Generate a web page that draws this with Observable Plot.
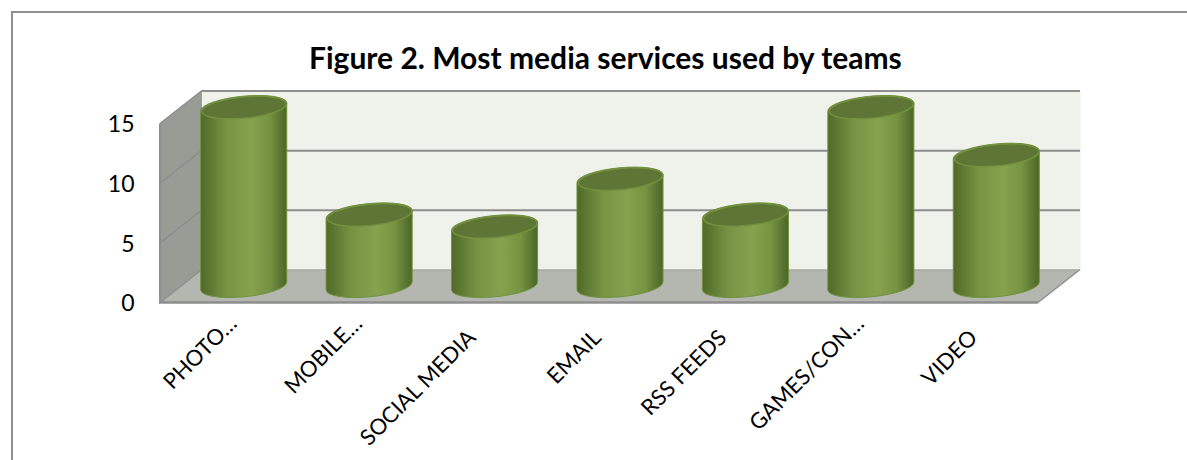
<!DOCTYPE html>
<html>
<head>
<meta charset="utf-8">
<script src="https://cdn.jsdelivr.net/npm/d3@7"></script>
<script src="https://cdn.jsdelivr.net/npm/@observablehq/plot@0.6"></script>
<style>
  html, body { margin: 0; background: #fff; overflow: hidden; }
  #chart { position: absolute; left: 11px; top: 11px; width: 1176px; height: 449px;
           border-top: 2px solid #8e8e8e; border-left: 2px solid #8e8e8e; box-sizing: border-box; }
  #chart h2 { margin: 0; height: 57px; padding: 27px 0 0 296px; box-sizing: border-box;
              font: bold 30px/34px Lato, sans-serif; color: #000; white-space: nowrap; }
  #chart svg { display: block; }
</style>
</head>
<body>
<div id="chart"><h2>Figure 2. Most media services used by teams</h2></div>
<script>
const categories = ["PHOTO…", "MOBILE…", "SOCIAL MEDIA", "EMAIL", "RSS FEEDS", "GAMES/CON…", "VIDEO"];
const teamCounts = [15, 6, 5, 9, 6, 15, 11];
const yTicks = [0, 5, 10, 15];
const teams = categories.map((name, i) => ({name, count: teamCounts[i]}));
const isShortened = name => name.endsWith("…");

// Oblique projection of the chart box: how far the back plane sits from the front one.
const depthX = 42, depthY = -33;
const tilt = -5.5 * Math.PI / 180; // lean of the cylinder caps
const capRatio = 0.25;             // minor / major axis of a cap

// Horizontal shading used on every cylinder body.
const gradient = () => {
  const g = d3.create("svg:linearGradient").attr("id", "drum");
  [[0, "#4f6a27"], [0.08, "#5a7530"], [0.3, "#779443"], [0.58, "#86a24f"],
   [0.8, "#759341"], [0.94, "#587330"], [1, "#4c6724"]]
    .forEach(([o, c]) => g.append("stop").attr("offset", o).attr("stop-color", c));
  const defs = d3.create("svg:defs");
  defs.append(() => g.node());
  return defs.node();
};

// Left wall and floor of the box, placed with the y scale.
const walls = (index, {y}, values, {width, height, marginLeft, marginRight}) => {
  const g = d3.create("svg:g");
  const x0 = marginLeft, x1 = width - marginRight, y0 = y(0), yTop = y(15);
  const poly = (pts, fill) => g.append("polygon").attr("points", pts.join(" ")).attr("fill", fill);
  poly([[x0, yTop], [x0 + depthX, yTop + depthY], [x0 + depthX, y0 + depthY], [x0, y0]], "#999c95");
  poly([[x0, y0], [x0 + depthX, y0 + depthY], [x1 + depthX, y0 + depthY], [x1, y0]], "#b4b7af");
  const seg = (a, b, c, d, w, s) => g.append("line").attr("x1", a).attr("y1", b).attr("x2", c).attr("y2", d)
    .attr("stroke", s).attr("stroke-width", w);
  for (const t of yTicks) seg(x0, y(t), x0 + depthX, y(t) + depthY, 1.5, "#8e8e8e");
  seg(x0, yTop, x0, y0, 2, "#8e8e8e");
  seg(x1, y0, x1 + depthX, y0 + depthY, 1.5, "#8e8e8e");
  seg(x0 - 1, y0, x1, y0, 2.5, "#8e8e8e");
  return g.node();
};

// Turns each bar rectangle into a cylinder silhouette with leaning elliptical ends.
const asCylinder = (index, scales, values, dimensions, context, next) => {
  const g = next(index, scales, values, dimensions, context);
  d3.select(g).selectAll("rect").each(function () {
    const r = d3.select(this);
    const [x, y, w, h] = ["x", "y", "width", "height"].map(a => +r.attr(a));
    const rise = (w / 2) * Math.tan(-tilt);
    const rx = Math.hypot(w / 2, rise), ry = rx * capRatio, deg = tilt * 180 / Math.PI;
    const arc = (tx, ty) => `A${rx},${ry} ${deg} 0 1 ${tx},${ty}`;
    const path = document.createElementNS("http://www.w3.org/2000/svg", "path");
    path.setAttribute("d", `M${x},${y + rise}${arc(x + w, y - rise)}L${x + w},${y + h - rise}${arc(x, y + h + rise)}Z`);
    this.replaceWith(path);
  });
  return g;
};

// Cap of a cylinder: an ellipse whose major axis comes from the dot radius.
const capSymbol = {
  draw(context, size) {
    const rx = Math.sqrt(size / Math.PI), ry = rx * capRatio;
    const n = 72;
    for (let i = 0; i <= n; ++i) {
      const a = (i / n) * 2 * Math.PI;
      const ex = rx * Math.cos(a), ey = ry * Math.sin(a);
      const px = ex * Math.cos(tilt) - ey * Math.sin(tilt);
      const py = ex * Math.sin(tilt) + ey * Math.cos(tilt);
      i ? context.lineTo(px, py) : context.moveTo(px, py);
    }
    context.closePath();
  }
};

const xAxisStyle = {tickSize: 0, tickRotate: -45, tickPadding: 31, fontSize: 22, label: null};

const chart = Plot.plot({
  width: 1174,
  height: 390,
  marginLeft: 147,
  marginRight: 149,
  marginTop: 53.5,
  marginBottom: 157.5,
  style: {fontFamily: "Lato, sans-serif", color: "#000", background: "transparent", overflow: "visible"},
  x: {domain: categories, paddingInner: 0.314, paddingOuter: 0.157, round: false, label: null},
  y: {domain: [0, 15], label: null},
  marks: [
    gradient,
    Plot.frame({fill: "#eef2ea", stroke: "none", dx: depthX, dy: depthY}),
    walls,
    Plot.ruleY(yTicks.filter(t => t > 0), {stroke: "#8e8e8e", strokeWidth: 2, dx: depthX, dy: depthY}),
    Plot.ruleY([0], {stroke: "#a0a0a0", strokeWidth: 1, dx: depthX, dy: depthY}),
    Plot.axisY({ticks: yTicks, tickSize: 0, tickPadding: 26, fontSize: 23, dy: 1, tickFormat: d => d, label: null}),
    Plot.axisX({...xAxisStyle, ticks: categories.filter(c => !isShortened(c)), dx: -2}),
    Plot.axisX({...xAxisStyle, ticks: categories.filter(isShortened), dx: 10, dy: -14}),
    Plot.barY(teams, {
      x: "name", y: "count", fill: "url(#drum)", stroke: "#72913f", strokeWidth: 1,
      dx: depthX / 2, dy: depthY / 2, render: asCylinder
    }),
    Plot.dot(teams, {
      x: "name", y: "count", r: 42.5, symbol: capSymbol,
      fill: "#5f7535", stroke: "#72913f", strokeWidth: 1.5,
      dx: depthX / 2, dy: depthY / 2
    })
  ]
});
document.getElementById("chart").appendChild(chart);
</script>
</body>
</html>
